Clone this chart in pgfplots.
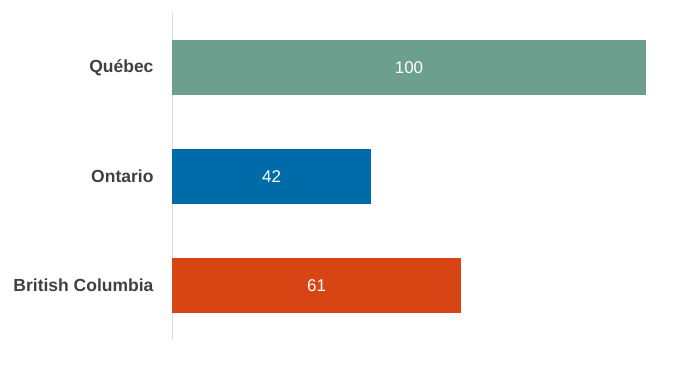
\documentclass[border=0pt]{standalone}
\usepackage{pgfplots}
\pgfplotsset{compat=1.18}
\usepackage{fontspec}
\setmainfont{Liberation Sans}
\definecolor{cgreen}{HTML}{6C9F8E}
\definecolor{cblue}{HTML}{006BA9}
\definecolor{corange}{HTML}{D74515}
\definecolor{ctext}{HTML}{404040}
\definecolor{caxis}{HTML}{D9D9D9}
\begin{document}
\begin{tikzpicture}[x=1pt,y=1pt]
\begin{axis}[
  at={(0,0)}, anchor=south west,
  scale only axis,
  width=474pt, height=327pt,
  xmin=0, xmax=100, ymin=-0.5, ymax=2.5,
  axis x line=none,
  axis y line*=left,
  y axis line style={draw=caxis, line width=0.8pt},
  ytick={0,1,2},
  yticklabels={British Columbia,Ontario,Québec},
  yticklabel style={font=\fontsize{17.5}{19}\selectfont\bfseries, text=ctext, xshift=-15pt},
  major tick length=0pt,
  clip=false,
]
\addplot[xbar, bar width=55pt, bar shift=0pt, fill=corange, draw=none] coordinates {(61,0)};
\addplot[xbar, bar width=55pt, bar shift=0pt, fill=cblue, draw=none] coordinates {(42,1)};
\addplot[xbar, bar width=55pt, bar shift=0pt, fill=cgreen, draw=none] coordinates {(100,2)};
\addplot[only marks, mark=none, point meta=explicit symbolic,
  nodes near coords, nodes near coords align={center},
  nodes near coords style={font=\fontsize{17}{19}\selectfont, text=white, anchor=center}]
  coordinates {(30.5,0) [61] (21,1) [42] (50,2) [100]};
\end{axis}
\useasboundingbox (-172,-40) rectangle (503,340);
\end{tikzpicture}
\end{document}
